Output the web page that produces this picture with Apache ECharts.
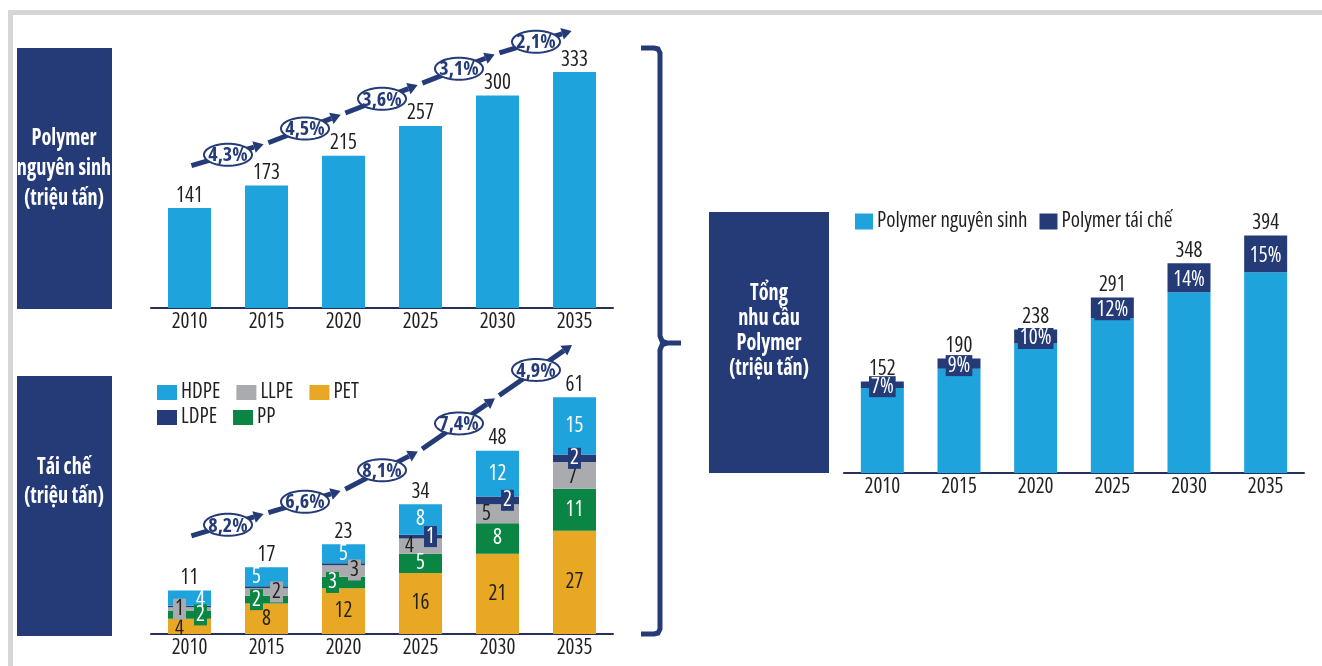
<!DOCTYPE html>
<html>
<head>
<meta charset="utf-8">
<script src="https://cdn.jsdelivr.net/npm/echarts@6/dist/echarts.min.js"></script>
<style>
html, body { margin: 0; padding: 0; background: #fff; }
#main { width: 1322px; height: 666px; }
</style>
</head>
<body>
<div id="main"></div>
<script>
// data
const years = ['2010', '2015', '2020', '2025', '2030', '2035']
const virgin = [141, 173, 215, 257, 300, 333]
const recycled = [11, 17, 23, 34, 48, 61]
const totalDemand = [152, 190, 238, 291, 348, 394]
const recycledShare = ['7%', '9%', '10%', '12%', '14%', '15%']
const virginGrowth = ['4,3%', '4,5%', '3,6%', '3,1%', '2,1%']
const recycledGrowth = ['8,2%', '6,6%', '8,1%', '7,4%', '4,9%']
const pet = [4, 8, 12, 16, 21, 27]
const pp = [2, 2, 3, 5, 8, 11]
const llpe = [1, 2, 3, 4, 5, 7]
const ldpe = [0.4, 0.5, 0.5, 1, 2, 2]
const hdpe = [4, 5, 5, 8, 12, 15]

const NAVY = '#243b77'
const BLUE = '#1ea3dc'
const GREY = '#a9abae'
const GREEN = '#0a8543'
const ORANGE = '#e9a823'
const INK = '#231f20'
// Open Sans is variable, 'condensed' gets close to the narrow face of the original
const FAMILY = "'Open Sans'"
const TXT = { fontFamily: FAMILY, fontStyle: 'condensed', fontSize: 21 }

const chart = echarts.init(document.getElementById('main'))

const xAxisBase = (g) => ({
    type: 'category',
    gridIndex: g,
    data: years,
    axisLine: { lineStyle: { color: '#26305a', width: 2 } },
    axisTick: { show: false },
    axisLabel: Object.assign({ color: INK, margin: 4 }, TXT)
})

// per-item label tweaks for the small stacked segments
const withLabels = (values, base, tweaks, hideBelow) => values.map((v, i) => {
    let label = Object.assign({}, base, tweaks[i] || {})
    if (hideBelow && v < hideBelow) label = { show: false }
    return { value: v, label: label }
})
const segBase = (color) => Object.assign({ show: true, position: 'inside', color: color }, TXT)
const boxed = (bg, off) => ({ backgroundColor: bg, padding: [0, 2], offset: off })

const stackSeries = (name, color, labels) => ({
    name: name, type: 'bar', stack: 'r', xAxisIndex: 1, yAxisIndex: 1,
    barWidth: 43, itemStyle: { color: color }, data: labels
})
const legendBase = {
    itemWidth: 20, itemHeight: 15, itemGap: 16, icon: 'rect', selectedMode: false, padding: 0,
    textStyle: Object.assign({ color: INK, padding: [0, 0, 0, -1] }, TXT)
}

const option = {
    animation: false,
    grid: [
        { left: 151, top: 48, width: 462, height: 260 },
        { left: 151, top: 380, width: 462, height: 254 },
        { left: 844, top: 212, width: 460, height: 261 }
    ],
    xAxis: [xAxisBase(0), xAxisBase(1), xAxisBase(2)],
    yAxis: [
        { type: 'value', gridIndex: 0, min: 0, max: 367, show: false },
        { type: 'value', gridIndex: 1, min: 0, max: 66.5, show: false },
        { type: 'value', gridIndex: 2, min: 0, max: 433, show: false }
    ],
    legend: [
        Object.assign({ data: ['HDPE', 'LLPE', 'PET'], left: 157, top: 382 }, legendBase),
        Object.assign({ data: ['LDPE', 'PP'], left: 157, top: 407 }, legendBase),
        Object.assign({}, legendBase, {
            data: ['Polymer nguyên sinh', 'Polymer tái chế'], left: 855, top: 211,
            itemWidth: 18, itemHeight: 16, itemGap: 12
        })
    ],
    series: [
        {
            name: 'virgin-top', type: 'bar', xAxisIndex: 0, yAxisIndex: 0, barWidth: 43,
            itemStyle: { color: BLUE }, data: virgin,
            label: Object.assign({ show: true, position: 'top', distance: 2, color: INK }, TXT)
        },
        stackSeries('PET', ORANGE, withLabels(pet, segBase(INK), { 0: { offset: [-10, 3] } })),
        stackSeries('PP', GREEN, withLabels(pp, segBase('#fff'), {
            0: boxed(GREEN, [11, 0]), 1: boxed(GREEN, [-10, 0]), 2: boxed(GREEN, [-11, 0])
        })),
        stackSeries('LLPE', GREY, withLabels(llpe, segBase(INK), {
            0: boxed(GREY, [-10, 0]), 1: boxed(GREY, [10, 0]), 2: boxed(GREY, [11, -1]),
            3: { offset: [-11, 0] }, 4: { offset: [-11, 0] }, 5: { offset: [-2, 2] }
        })),
        stackSeries('LDPE', NAVY, withLabels(ldpe, Object.assign(segBase('#fff'), boxed(NAVY, [0, 0])), {
            3: { offset: [10, 0] }, 4: { offset: [10, 0] }
        }, 1)),
        stackSeries('HDPE', BLUE, withLabels(hdpe, segBase('#fff'), {
            0: { offset: [11, 2] }, 1: { offset: [-10, 0] }
        })),
        {
            name: 'recycled-total', type: 'bar', stack: 'r', xAxisIndex: 1, yAxisIndex: 1, barWidth: 43,
            data: recycled.map(() => 0),
            label: Object.assign({
                show: true, position: 'top', distance: 2, color: INK,
                formatter: (p) => recycled[p.dataIndex]
            }, TXT)
        },
        {
            name: 'Polymer nguyên sinh', type: 'bar', stack: 't', xAxisIndex: 2, yAxisIndex: 2, barWidth: 43,
            itemStyle: { color: BLUE }, data: virgin
        },
        {
            name: 'Polymer tái chế', type: 'bar', stack: 't', xAxisIndex: 2, yAxisIndex: 2, barWidth: 43,
            itemStyle: { color: NAVY }, data: recycled,
            label: Object.assign({
                show: true, position: 'inside', offset: [0, 2], color: '#fff',
                backgroundColor: NAVY, padding: [0, 2],
                formatter: (p) => recycledShare[p.dataIndex]
            }, TXT)
        },
        {
            name: 'demand-total', type: 'bar', stack: 't', xAxisIndex: 2, yAxisIndex: 2, barWidth: 43,
            data: totalDemand.map(() => 0),
            label: Object.assign({
                show: true, position: 'top', distance: 2, color: INK,
                formatter: (p) => totalDemand[p.dataIndex]
            }, TXT)
        }
    ]
}
chart.setOption(option)

// decorations: frame, title boxes, brace
const boxText = (cx, cy, text, lh) => ({
    type: 'text', x: cx, y: cy, scaleX: 0.88,
    style: {
        text: text, fill: '#fff', font: "condensed bold 23px " + FAMILY, lineHeight: lh,
        align: 'center', verticalAlign: 'middle'
    }
})
const graphics = [
    { type: 'rect', shape: { x: 8, y: 10, width: 1314, height: 5 }, style: { fill: '#d6d6d6' } },
    { type: 'rect', shape: { x: 8, y: 10, width: 5, height: 656 }, style: { fill: '#d6d6d6' } },
    { type: 'rect', shape: { x: 17, y: 48, width: 95, height: 261 }, style: { fill: NAVY } },
    { type: 'rect', shape: { x: 17, y: 376, width: 95, height: 260 }, style: { fill: NAVY } },
    { type: 'rect', shape: { x: 709, y: 212, width: 120, height: 261 }, style: { fill: NAVY } },
    boxText(64, 168, 'Polymer\nnguyên sinh\n(triệu tấn)', 30),
    boxText(64, 482, 'Tái chế\n(triệu tấn)', 29),
    boxText(769, 331, 'Tổng\nnhu cầu\nPolymer\n(triệu tấn)', 25),
    {
        type: 'polyline',
        shape: { points: [[641, 48], [654, 48], [658, 49], [660, 53], [660, 336], [662, 341], [667, 343], [681, 343]] },
        style: { fill: null, stroke: NAVY, lineWidth: 5 }
    },
    {
        type: 'polyline',
        shape: { points: [[667, 343], [662, 345], [660, 350], [660, 629], [658, 633], [654, 634], [641, 634]] },
        style: { fill: null, stroke: NAVY, lineWidth: 5 }
    }
]

const ellipsePoints = (cx, cy, rx, ry) => {
    const pts = []
    for (let k = 0; k < 60; k++) {
        const t = k / 60 * Math.PI * 2
        pts.push([cx + rx * Math.cos(t), cy + ry * Math.sin(t)])
    }
    return pts
}

// growth arrows follow the bar tops
const arrowChain = (axis, tops, rates, lift) => {
    const pts = tops.map((v, i) => {
        const p = chart.convertToPixel({ xAxisIndex: axis, yAxisIndex: axis }, [i, v])
        return [p[0], p[1] - lift]
    })
    const out = []
    for (let i = 0; i < rates.length; i++) {
        const a = pts[i], b = pts[i + 1]
        const dx = b[0] - a[0], dy = b[1] - a[1]
        const len = Math.sqrt(dx * dx + dy * dy)
        const ux = dx / len, uy = dy / len
        const s = [a[0] + ux * 2, a[1] + uy * 2]
        const e = [b[0] - ux * 3, b[1] - uy * 3]
        const base = [e[0] - ux * 10, e[1] - uy * 10]
        out.push({ type: 'line', shape: { x1: s[0], y1: s[1], x2: base[0], y2: base[1] }, style: { stroke: NAVY, lineWidth: 5 } })
        out.push({
            type: 'polygon',
            shape: { points: [e, [base[0] - uy * 6, base[1] + ux * 6], [base[0] + uy * 6, base[1] - ux * 6]] },
            style: { fill: NAVY }
        })
        const m = [(a[0] + b[0]) / 2, (a[1] + b[1]) / 2]
        out.push({ type: 'polygon', z: 10, shape: { points: ellipsePoints(m[0], m[1], 24, 11) }, style: { fill: '#fff', stroke: NAVY, lineWidth: 2 } })
        out.push({
            type: 'text', x: m[0], y: m[1] + 1, z: 11,
            style: { text: rates[i], fill: NAVY, font: "condensed bold 20px " + FAMILY, align: 'center', verticalAlign: 'middle' }
        })
    }
    return out
}
const stackTops = pet.map((v, i) => v + pp[i] + llpe[i] + ldpe[i] + hdpe[i])
chart.setOption({
    graphic: graphics
        .concat(arrowChain(0, virgin, virginGrowth, 42))
        .concat(arrowChain(1, stackTops, recycledGrowth, 54))
})
</script>
</body>
</html>
